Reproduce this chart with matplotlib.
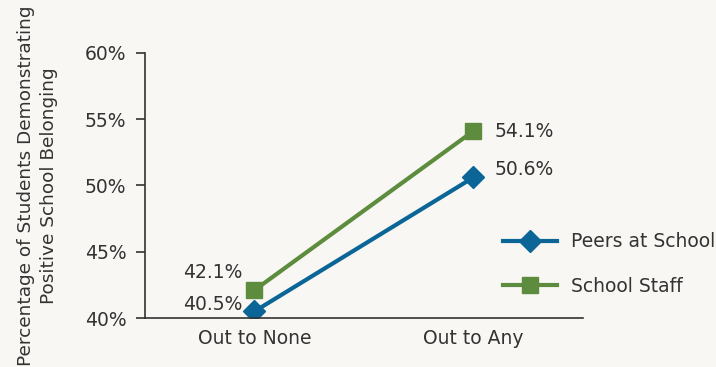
import matplotlib.pyplot as plt

categories = ['Out to None', 'Out to Any']
peers = [40.5, 50.6]
staff = [42.1, 54.1]
series_names = ['Peers at School', 'School Staff']
yticks = [40, 45, 50, 55, 60]

bg = '#F8F7F4'
blue = '#0B6697'
green = '#5E8C3E'
text_col = '#333333'

plt.rcParams['font.family'] = ['DejaVu Sans']

fig = plt.figure(figsize=(7.16, 3.67), dpi=100, facecolor=bg)
ax = fig.add_axes([0.2025, 0.1335, 0.6115, 0.7225])
ax.set_facecolor(bg)

x = list(range(len(categories)))
ax.plot(x, peers, color=blue, lw=3, marker='D', ms=11, label=series_names[0])
ax.plot(x, staff, color=green, lw=3, marker='s', ms=11, label=series_names[1])

# label offsets (points)
peer_off = [(-9, 5), (15, 6)]
staff_off = [(-9, 13), (15, 0)]
for i, v in enumerate(peers):
    dx, dy = peer_off[i]
    ax.annotate(f'{v}%', (i, v), xytext=(dx, dy), textcoords='offset points',
                ha='right' if dx < 0 else 'left', va='center', fontsize=13.5,
                color=text_col)
for i, v in enumerate(staff):
    dx, dy = staff_off[i]
    ax.annotate(f'{v}%', (i, v), xytext=(dx, dy), textcoords='offset points',
                ha='right' if dx < 0 else 'left', va='center', fontsize=13.5,
                color=text_col)

ax.set_xlim(-0.5, 1.5)
ax.set_ylim(40, 60)
ax.set_yticks(yticks)
ax.set_yticklabels([f'{t}%' for t in yticks])
ax.set_xticks(x)
ax.set_xticklabels(categories)
ax.tick_params(axis='y', length=6.5, width=1.2, color=text_col, labelsize=13.5,
               labelcolor=text_col, pad=7)
ax.tick_params(axis='x', length=0, labelsize=13.5, labelcolor=text_col, pad=8)

for s in ['top', 'right']:
    ax.spines[s].set_visible(False)
for s in ['left', 'bottom']:
    ax.spines[s].set_color(text_col)
    ax.spines[s].set_linewidth(1.2)

ax.set_ylabel('Percentage of Students Demonstrating\nPositive School Belonging',
              fontsize=13.3, color=text_col, labelpad=19, linespacing=1.4)

leg = fig.legend(loc='center left', bbox_to_anchor=(0.7025, 0.2807), frameon=False,
                 fontsize=13.5, handlelength=2.9, labelspacing=1.35, handletextpad=0.75,
                 borderpad=0, borderaxespad=0, labelcolor=text_col)

fig.savefig('out.png', dpi=100, facecolor=bg)
